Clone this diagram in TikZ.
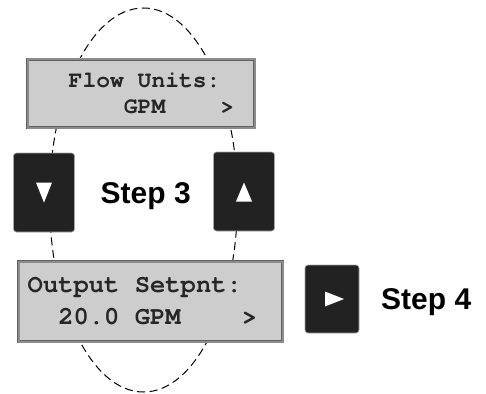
\documentclass[tikz,border=0pt]{standalone}
\usepackage{fontspec}
\setmainfont{Liberation Sans}
\newfontfamily\lcdfont{TeX Gyre Cursor}
\definecolor{lcdfill}{HTML}{CDCDCD}
\definecolor{lcdframe}{HTML}{8C8C8C}
\definecolor{keyfill}{HTML}{222222}
\definecolor{lcdink}{HTML}{262626}

\begin{document}
\begin{tikzpicture}[x=1pt,y=-1pt,
    lcd/.style={rectangle, fill=lcdfill, draw=gray!75!black, double=lcdframe,
        double distance=2pt, line width=0.5pt, inner sep=0pt},
    key/.style={rectangle, rounded corners=3pt, fill=keyfill, draw=gray!70,
        line width=0.6pt, inner sep=0pt},
    lcdline/.style={anchor=base west, inner sep=0pt, text=lcdink},
    steplabel/.style={anchor=base west, inner sep=0pt,
        font=\bfseries\fontsize{30}{36}\selectfont},
    menuloop/.style={dash pattern=on 8pt off 4.5pt, line width=1pt}]
    \useasboundingbox (0,0) rectangle (486,393);

    % loop through the two menu screens
    \coordinate (loopcentre) at (143.5,200);
    \draw[menuloop] (loopcentre) ellipse [x radius=94pt, y radius=192pt];

    % display screens
    \node[lcd, minimum width=227pt, minimum height=68pt] (flowlcd) at (141,93.5) {};
    \node[lcd, minimum width=264pt, minimum height=80pt] (setlcd) at (150.5,301.5) {};

    \node[lcdline, font=\lcdfont\bfseries\fontsize{23}{26}\selectfont] (flowunits) at (68.5,88) {Flow Units:};
    \node[lcdline, font=\lcdfont\bfseries\fontsize{23}{26}\selectfont] (flowvalue) at (68.5,113.5) {\phantom{0000}GPM\phantom{0000}>};
    \node[lcdline, font=\lcdfont\bfseries\fontsize{25.5}{30}\selectfont] (setpnt) at (27.5,292.5) {Output Setpnt:};
    \node[lcdline, font=\lcdfont\bfseries\fontsize{25.5}{30}\selectfont] (setvalue) at (27.5,324.5) {\phantom{00}20.0 GPM\phantom{0000}>};

    % keys
    \node[key, minimum width=61pt, minimum height=79pt] (downkey) at (44,192.5) {};
    \node[key, minimum width=61pt, minimum height=79pt] (upkey) at (244,191.5) {};
    \node[key, minimum width=54pt, minimum height=68pt] (rightkey) at (332,299) {};

    \fill[white] ([shift={(-8,-10)}]downkey.center) -- ([shift={(8,-10)}]downkey.center)
        -- ([shift={(0,10)}]downkey.center) -- cycle;
    \fill[white] ([shift={(-8,10)}]upkey.center) -- ([shift={(8,10)}]upkey.center)
        -- ([shift={(0,-9)}]upkey.center) -- cycle;
    \fill[white] ([shift={(-7,-7.5)}]rightkey.center) -- ([shift={(-7,7.5)}]rightkey.center)
        -- ([shift={(12,0)}]rightkey.center) -- cycle;

    \node[steplabel] (stepthree) at (100.5,203.5) {Step 3};
    \node[steplabel] (stepfour) at (381,309.5) {Step 4};
\end{tikzpicture}
\end{document}
